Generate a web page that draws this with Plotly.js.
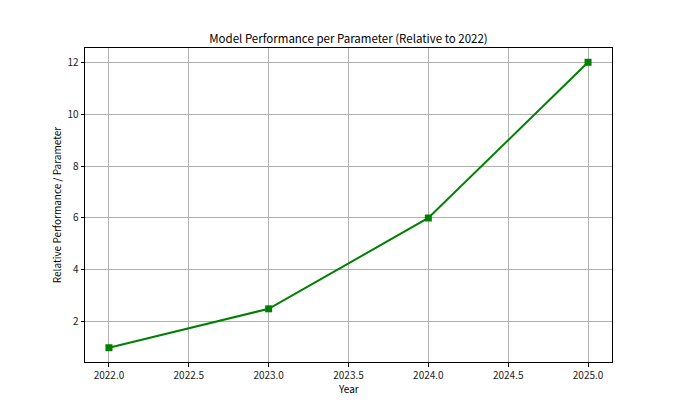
<!DOCTYPE html>
<html>
<head>
<meta charset="utf-8">
<script src="https://cdn.plot.ly/plotly-3.0.1.min.js"></script>
<style>
  html, body { margin: 0; padding: 0; background: #fff; }
  #chart { width: 680px; height: 408px; }
</style>
</head>
<body>
<div id="chart"></div>
<script>
const years = [2022, 2023, 2024, 2025];
const relPerf = [1, 2.5, 6, 12];
const xTicks = [2022.0, 2022.5, 2023.0, 2023.5, 2024.0, 2024.5, 2025.0];
const xTickText = ['2022.0', '2022.5', '2023.0', '2023.5', '2024.0', '2024.5', '2025.0'];
const yTicks = [2, 4, 6, 8, 10, 12];

const FONT = 'Noto Sans CJK SC, Noto Sans, DejaVu Sans, sans-serif';

const axisBase = {
  showline: true,
  mirror: true,
  linecolor: '#000',
  linewidth: 1,
  showgrid: true,
  gridcolor: '#b0b0b0',
  gridwidth: 1,
  zeroline: false,
  ticks: 'outside',
  ticklen: 3.5,
  tickcolor: '#000',
  tickfont: { family: FONT, size: 10, color: '#222' },
};

Plotly.newPlot('chart', [{
  type: 'scatter',
  mode: 'lines+markers',
  x: years,
  y: relPerf,
  line: { color: '#008000', width: 2 },
  marker: { symbol: 'square', size: 7, color: '#008000' },
  hoverinfo: 'x+y',
}], {
  width: 680,
  height: 408,
  paper_bgcolor: '#fff',
  plot_bgcolor: '#fff',
  font: { family: FONT, color: '#000' },
  showlegend: false,
  title: {
    text: 'Model Performance per Parameter (Relative to 2022)',
    font: { family: FONT, size: 11.5, color: '#000' },
    xref: 'paper', x: 0.5, xanchor: 'center',
    yref: 'container', y: 0.904, yanchor: 'middle',
  },
  xaxis: Object.assign({}, axisBase, {
    range: [2021.85, 2025.15],
    tickvals: xTicks,
    ticktext: xTickText,
  }),
  yaxis: Object.assign({}, axisBase, {
    range: [0.45, 12.55],
    tickvals: yTicks,
    title: { text: 'Relative Performance / Parameter', font: { family: FONT, size: 10, color: '#000' }, standoff: 3 },
  }),
  annotations: [{
    text: 'Year',
    xref: 'paper', x: 0.5, xanchor: 'center',
    yref: 'paper', y: 0, yanchor: 'middle', yshift: -26,
    showarrow: false,
    font: { family: FONT, size: 10, color: '#000' },
  }],
  margin: { l: 85, r: 68, t: 48, b: 46 },
}, { displayModeBar: false });
</script>
</body>
</html>
